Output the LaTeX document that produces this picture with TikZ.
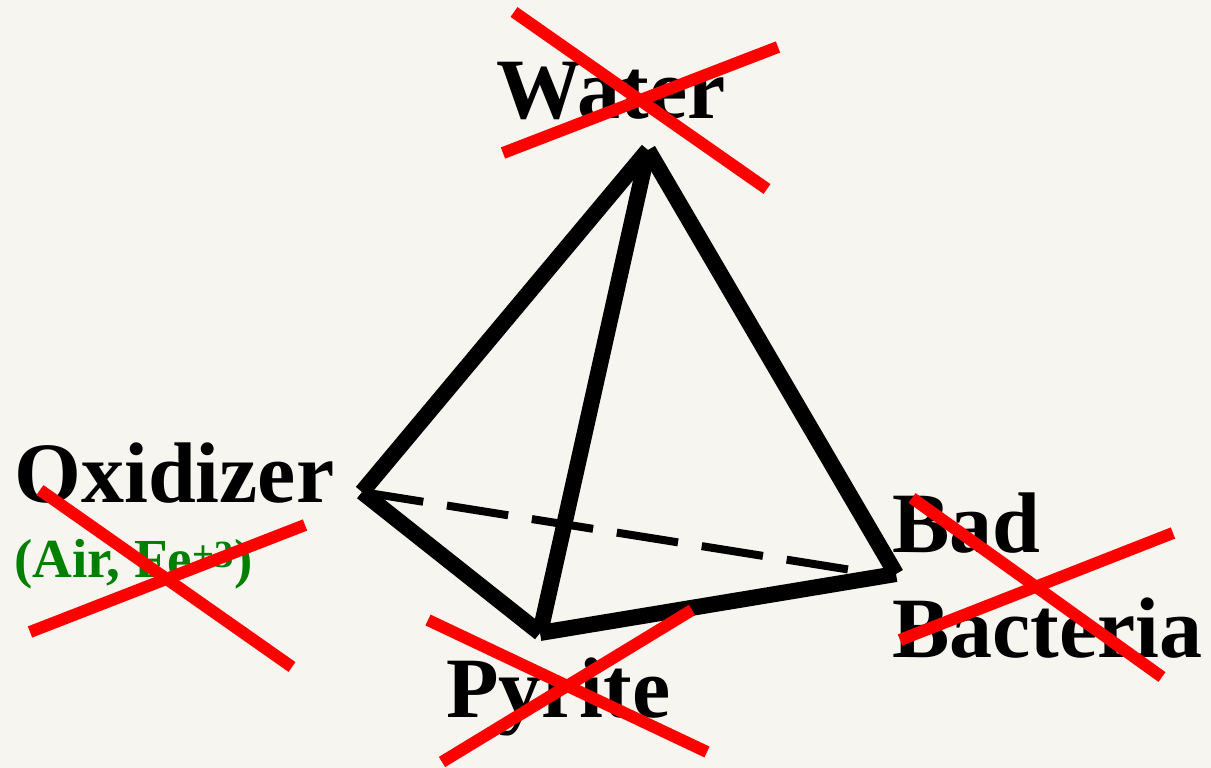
\documentclass[tikz,border=0pt]{standalone}
\usepackage{fontspec}
\setmainfont{Liberation Serif}
\definecolor{bg}{HTML}{F6F5F0}
\definecolor{lbl}{HTML}{008000}
\begin{document}
\begin{tikzpicture}[x=1pt,y=-1pt,
  edge/.style={line width=16pt,black},
  hidden/.style={line width=8pt,black,dash pattern=on 62pt off 24pt},
  cross/.style={line width=12pt,red},
  big/.style={inner sep=0pt,anchor=base west,font=\fontsize{86}{105}\selectfont\bfseries},
  small/.style={inner sep=0pt,anchor=base west,text=lbl,font=\fontsize{55}{60}\selectfont\bfseries}]
\fill[bg] (0,0) rectangle (1211,768);
\useasboundingbox (0,0) rectangle (1211,768);
% vertices
\coordinate (A) at (648,150);
\coordinate (L) at (362,492);
\coordinate (B) at (540,633);
\coordinate (R) at (896,574);
\coordinate (Rd) at (864,572);
% edges
\draw[hidden] (L) -- (Rd);
\draw[edge] (L) -- (B);
\draw[edge] (B) -- (R);
\draw[edge] (A) -- (L);
\draw[edge] (A) -- (B);
\draw[edge] (A) -- (R);
% labels
\node[big] (water) at (496,118) {Water};
\node[big] (ox) at (14,502) {Oxidizer};
\node[small] (air) at (14,577) {(Air, Fe\textsuperscript{+3})};
\node[big] (bad) at (892,552) {Bad};
\node[big] (bact) at (892,657) {Bacteria};
\node[big] (pyr) at (446,717) {Pyrite};
% crosses
\coordinate (w1) at (514,12); \coordinate (w2) at (767,189);
\coordinate (w3) at (503,153); \coordinate (w4) at (778,47);
\draw[cross] (w1) -- (w2); \draw[cross] (w3) -- (w4);
\coordinate (o1) at (40,490); \coordinate (o2) at (292,667);
\coordinate (o3) at (30,632); \coordinate (o4) at (305,525);
\draw[cross] (o1) -- (o2); \draw[cross] (o3) -- (o4);
\coordinate (b1) at (912,498); \coordinate (b2) at (1162,677);
\coordinate (b3) at (900,640); \coordinate (b4) at (1173,533);
\draw[cross] (b1) -- (b2); \draw[cross] (b3) -- (b4);
\coordinate (p1) at (428,620); \coordinate (p2) at (707,752);
\coordinate (p3) at (442,762); \coordinate (p4) at (692,610);
\draw[cross] (p1) -- (p2); \draw[cross] (p3) -- (p4);
\end{tikzpicture}
\end{document}
